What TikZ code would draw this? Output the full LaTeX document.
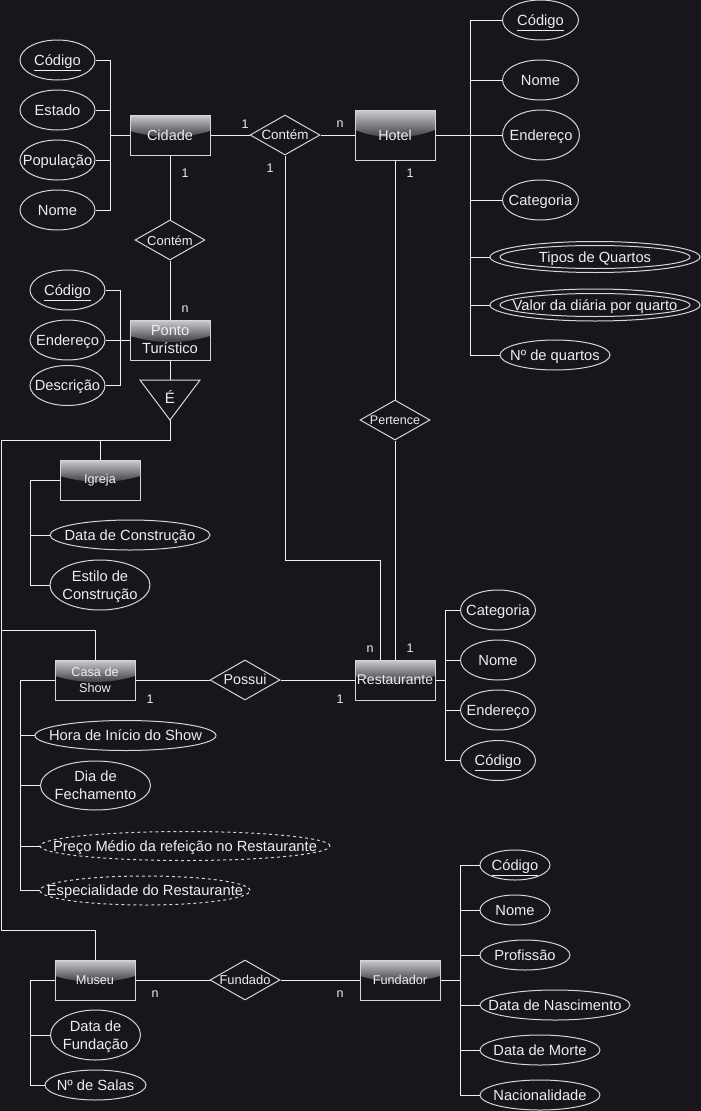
\documentclass[tikz,border=0pt]{standalone}
\usepackage{fontspec}
\setmainfont{Liberation Sans}
\usetikzlibrary{shapes.geometric,calc}

\definecolor{bg}{RGB}{24,21,29}
\definecolor{ln}{RGB}{240,240,240}
\definecolor{ol}{RGB}{214,214,214}
\definecolor{txt}{RGB}{238,238,238}
\definecolor{glossA}{RGB}{205,205,208}
\definecolor{glossB}{RGB}{50,48,56}

\newcommand\fs[2]{\fontsize{#1}{#2}\selectfont}
% centred label of zero size, so the shape keeps its given size
\newcommand\tx[1]{\makebox[0pt]{\raisebox{-0.37em}[0pt][0pt]{\begin{tabular}{@{}c@{}}#1\end{tabular}}}}

\tikzset{
  conn/.style={draw=ln, line width=1pt},
  entity/.style={rectangle, draw=ol, line width=1pt, fill=bg,
    minimum width=80pt, minimum height=40pt, inner sep=0pt,
    text=txt, align=center,
    path picture={
      \coordinate (gl) at ($(path picture bounding box.north west)!0.4!(path picture bounding box.south west)$);
      \coordinate (gr) at ($(path picture bounding box.north east)!0.4!(path picture bounding box.south east)$);
      \coordinate (cl) at ($(path picture bounding box.north west)!0.6!(path picture bounding box.south west)$);
      \coordinate (cr) at ($(path picture bounding box.north east)!0.6!(path picture bounding box.south east)$);
      \path[top color=glossA, bottom color=glossB]
        (path picture bounding box.north west) -- (gl)
        .. controls ($(cl)!0.3333!(cr)$) and ($(cl)!0.6667!(cr)$) .. (gr)
        -- (path picture bounding box.north east) -- cycle;
    }},
  rel/.style={diamond, draw=ol, line width=1pt, fill=bg,
    minimum width=70pt, minimum height=40pt, inner sep=0pt, text=txt},
  attr/.style 2 args={ellipse, draw=ol, line width=1pt,
    minimum width=#1, minimum height=#2, inner sep=0pt, text=txt,
    font=\fs{14.7}{18}},
  derived/.style={dash pattern=on 3pt off 3pt},
  multi/.style={path picture={
    \draw[ol, line width=1pt] (path picture bounding box.center)
      ellipse [x radius=95pt, y radius=11.5pt];}},
  card/.style={text=txt, font=\fs{12.5}{15}, inner sep=0pt},
}

\begin{document}
\begin{tikzpicture}[x=1pt, y=-1pt]
\fill[bg] (0,0) rectangle (701,1111);
\useasboundingbox (0,0) rectangle (701,1111);

% ---------- entities ----------
\node[entity, font=\fs{14.5}{18}] (cid) at (170,135) {Cidade};
\node[entity, minimum height=50pt, font=\fs{14.3}{18}] (hot) at (395,135) {Hotel};
\node[entity, font=\fs{14.7}{18}] (pt) at (170,340) {Ponto\\Turístico};
\node[entity, font=\fs{12.7}{16}] (igr) at (100,480) {Igreja};
\node[entity, font=\fs{12.7}{16}] (cas) at (95,680) {Casa de\\Show};
\node[entity, font=\fs{14}{18}] (res) at (395,680) {Restaurante};
\node[entity, font=\fs{12.7}{16}] (mus) at (95,980) {Museu};
\node[entity, font=\fs{12.7}{16}] (fun) at (400,980) {Fundador};

% ---------- relationships ----------
\node[rel, font=\fs{13.4}{16}] (r1) at (285,135) {\tx{Contém}};
\node[rel, font=\fs{13}{16}] (r2) at (170,240) {\tx{Contém}};
\node[rel, font=\fs{12.5}{16}] (per) at (395,420) {\tx{Pertence}};
\node[rel, font=\fs{14.3}{16}] (pos) at (245,680) {\tx{Possui}};
\node[rel, font=\fs{12.9}{16}] (fdd) at (245,980) {\tx{Fundado}};

% specialisation triangle
\draw[ol, line width=1pt] (140,380) -- (200,380) -- (170,420) -- cycle;
\node[text=txt, font=\fs{15}{18}, inner sep=0pt] (isa) at (170,397) {É};
\coordinate (isaTop) at (170,380);
\coordinate (isaTip) at (170,420);

% ---------- attributes: Cidade ----------
\node[attr={75pt}{40pt}] (cC) at (57.5,60) {\tx{\underline{Código}}};
\node[attr={75pt}{40pt}] (eC) at (57.5,110) {\tx{Estado}};
\node[attr={75pt}{40pt}] (pC) at (57.5,160) {\tx{População}};
\node[attr={75pt}{40pt}] (nC) at (57.5,210) {\tx{Nome}};

% ---------- attributes: Hotel ----------
\node[attr={76pt}{40pt}] (cH) at (540.5,20) {\tx{\underline{Código}}};
\node[attr={76pt}{40pt}] (nH) at (540.5,80) {\tx{Nome}};
\node[attr={77pt}{50pt}] (eH) at (541,135) {\tx{Endereço}};
\node[attr={76pt}{40pt}] (kH) at (540.5,200) {\tx{Categoria}};
\node[attr={210pt}{31pt}, multi] (tH) at (595,257) {\tx{Tipos de Quartos}};
\node[attr={210pt}{32pt}, multi] (vH) at (595,305) {\tx{Valor da diária por quarto}};
\node[attr={110pt}{30pt}] (qH) at (555,355) {\tx{Nº de quartos}};

% ---------- attributes: Ponto Turístico ----------
\node[attr={75pt}{40pt}] (cP) at (67.5,290) {\tx{\underline{Código}}};
\node[attr={75pt}{40pt}] (eP) at (67.5,340) {\tx{Endereço}};
\node[attr={75pt}{40pt}] (dP) at (67.5,385.5) {\tx{Descrição}};

% ---------- attributes: Igreja ----------
\node[attr={160pt}{30pt}] (dcI) at (130,535) {\tx{Data de Construção}};
\node[attr={100pt}{50pt}] (ecI) at (100,585) {\tx{Estilo de\\Construção}};

% ---------- attributes: Casa de Show ----------
\node[attr={181pt}{30pt}] (hC) at (125.5,735.5) {\tx{Hora de Início do Show}};
\node[attr={110pt}{49pt}] (dfC) at (95.5,785.5) {\tx{Dia de\\Fechamento}};
\node[attr={290pt}{29pt}, derived] (pmC) at (185,846) {\tx{Preço Médio da refeição no Restaurante}};
\node[attr={210pt}{29pt}, derived] (esC) at (145,890.5) {\tx{Especialidade do Restaurante}};

% ---------- attributes: Restaurante ----------
\node[attr={75pt}{40pt}] (catR) at (498,610) {\tx{Categoria}};
\node[attr={75pt}{40pt}] (nR) at (498,660) {\tx{Nome}};
\node[attr={75pt}{40pt}] (eR) at (498,710) {\tx{Endereço}};
\node[attr={75pt}{40pt}] (cR) at (498,760.5) {\tx{\underline{Código}}};

% ---------- attributes: Museu ----------
\node[attr={90pt}{50pt}] (dfM) at (95.5,1035) {\tx{Data de\\Fundação}};
\node[attr={101pt}{30pt}] (nsM) at (95.5,1085) {\tx{Nº de Salas}};

% ---------- attributes: Fundador ----------
\node[attr={70pt}{30pt}] (cF) at (515,865) {\tx{\underline{Código}}};
\node[attr={70pt}{30pt}] (nF) at (515,910) {\tx{Nome}};
\node[attr={90pt}{30pt}] (prF) at (525,955) {\tx{Profissão}};
\node[attr={150pt}{30pt}] (dnF) at (555,1005) {\tx{Data de Nascimento}};
\node[attr={120pt}{30pt}] (dmF) at (540,1050) {\tx{Data de Morte}};
\node[attr={120pt}{30pt}] (naF) at (540,1095) {\tx{Nacionalidade}};

% ---------- bus points ----------
\coordinate (cbus) at (110,135);
\coordinate (hbus) at (470.5,135);
\coordinate (pbus) at (120,340);
\coordinate (ibus) at (30,480);
\coordinate (kbus) at (20.5,680);
\coordinate (rbus) at (445.5,680);
\coordinate (mbus) at (30.5,980);
\coordinate (fbus) at (460.5,980);
\coordinate (bend) at (380,560);
\coordinate (isaBus) at (170,440);
\coordinate (lTop) at (1,440);
\coordinate (lMid) at (1,630);
\coordinate (lBot) at (1,930);

% ---------- attribute links ----------
\draw[conn] (cid.west) -- (cbus);
\foreach \a in {cC,eC,pC,nC} \draw[conn] (\a.east) -| (cbus);

\draw[conn] (hot.east) -- (eH.west);
\foreach \a in {cH,nH,kH,tH,vH,qH} \draw[conn] (\a.west) -| (hbus);

\draw[conn] (eP.east) -- (pt.west);
\foreach \a in {cP,dP} \draw[conn] (\a.east) -| (pbus);

\draw[conn] (igr.west) -- (ibus) |- (ecI.west);
\draw[conn] (ibus) |- (dcI.west);

\draw[conn] (cas.west) -- (kbus) |- (esC.west);
\foreach \a in {hC,dfC,pmC} \draw[conn] (kbus) |- (\a.west);

\draw[conn] (res.east) -- (rbus);
\foreach \a in {catR,nR,eR,cR} \draw[conn] (\a.west) -| (rbus);

\draw[conn] (mus.west) -- (mbus) |- (nsM.west);
\draw[conn] (mbus) |- (dfM.west);

\draw[conn] (fun.east) -- (fbus);
\foreach \a in {cF,nF,prF,dnF,dmF,naF} \draw[conn] (\a.west) -| (fbus);

% ---------- relationship links ----------
\draw[conn] (cid.east) -- (r1.west);
\draw[conn] (r1.east) -- (hot.west);
\draw[conn] (r1.south) |- (bend) -- (bend |- res.north);
\draw[conn] (hot.south) -- (per.north);
\draw[conn] (per.south) -- (res.north);
\draw[conn] (cid.south) -- (r2.north);
\draw[conn] (r2.south) -- (pt.north);
\draw[conn] (pt.south) -- (isaTop);
\draw[conn] (isaTip) -- (isaBus) -- (lTop) -- (lBot);
\draw[conn] (isaBus) -| (igr.north);
\draw[conn] (lMid) -| (cas.north);
\draw[conn] (lBot) -| (mus.north);
\draw[conn] (cas.east) -- (pos.west);
\draw[conn] (pos.east) -- (res.west);
\draw[conn] (mus.east) -- (fdd.west);
\draw[conn] (fdd.east) -- (fun.west);

% ---------- cardinalities ----------
\node[card] (k1) at (245,124) {1};
\node[card] (k2) at (340,124) {n};
\node[card] (k3) at (270,168) {1};
\node[card] (k4) at (185,173) {1};
\node[card] (k5) at (185,309) {n};
\node[card] (k6) at (410,173) {1};
\node[card] (k7) at (370,649) {n};
\node[card] (k8) at (410,648) {1};
\node[card] (k9) at (150,699) {1};
\node[card] (k10) at (340,699) {1};
\node[card] (k11) at (155,994) {n};
\node[card] (k12) at (340,994) {n};
\end{tikzpicture}
\end{document}
